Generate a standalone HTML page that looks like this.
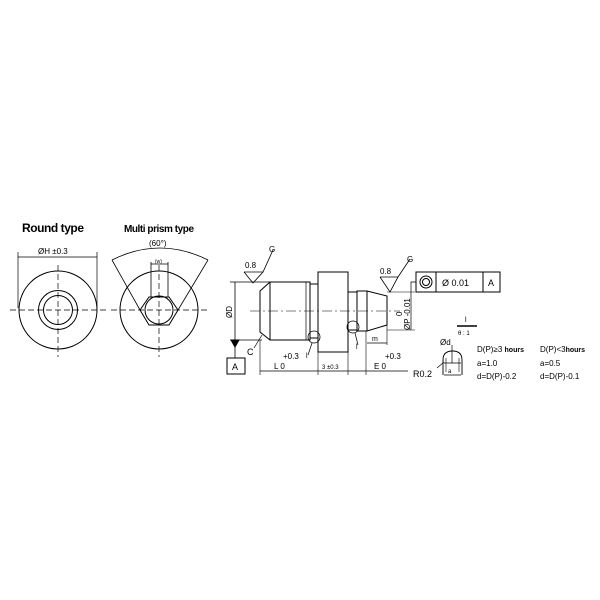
<!DOCTYPE html>
<html><head><style>body{margin:0;background:#fff}svg{display:block}text{font-family:"Liberation Sans",sans-serif;fill:#000}</style></head>
<body>
<svg width="600" height="600" viewBox="0 0 600 600" xmlns="http://www.w3.org/2000/svg" stroke="#000" fill="none" stroke-width="1">
<!-- Round type -->
<text x="22" y="232" font-size="12" font-weight="bold" stroke="none" textLength="62">Round type</text>
<line x1="18" y1="257" x2="97" y2="257" stroke-width="0.8"/>
<line x1="18" y1="252" x2="18" y2="308" stroke-width="0.7"/>
<line x1="97" y1="252" x2="97" y2="308" stroke-width="0.7"/>
<text x="38" y="254" font-size="8" stroke="none">ØH ±0.3</text>
<circle cx="58" cy="310" r="39"/>
<circle cx="58" cy="310" r="19.5"/>
<circle cx="58" cy="310" r="14.5"/>
<line x1="10" y1="310" x2="106" y2="310" stroke-dasharray="6,3" stroke-width="0.7"/>
<line x1="58" y1="265" x2="58" y2="357" stroke-dasharray="6,3" stroke-width="0.7"/>
<!-- Multi prism -->
<text x="124" y="232" font-size="10" font-weight="bold" stroke="none" textLength="70">Multi prism type</text>
<text x="149" y="246" font-size="8" stroke="none">(60°)</text>
<path d="M112,260 Q160,236 208,260" stroke-width="0.8"/>
<line x1="112" y1="260" x2="140" y2="310" stroke-width="0.8"/>
<line x1="208" y1="260" x2="178" y2="310" stroke-width="0.8"/>
<circle cx="159" cy="310" r="39"/>
<polygon points="140,310 149,297 169,297 178,310 169,325 149,325"/>
<circle cx="159" cy="310" r="14"/>
<line x1="151" y1="262" x2="151" y2="297" stroke-width="0.8"/>
<line x1="168" y1="262" x2="168" y2="297" stroke-width="0.8"/>
<line x1="151" y1="264" x2="168" y2="264" stroke-width="0.8"/>
<text x="155" y="263" font-size="5" stroke="none">(w)</text>
<line x1="111" y1="310" x2="207" y2="310" stroke-dasharray="6,3" stroke-width="0.7"/>
<line x1="159" y1="265" x2="159" y2="357" stroke-dasharray="6,3" stroke-width="0.7"/>
<!-- Main part -->
<polygon points="270,282 310,282 310,340 270,340 260,332 260,291"/>
<line x1="270" y1="282" x2="270" y2="340"/>
<line x1="306" y1="282" x2="306" y2="340" stroke-width="0.7"/>
<rect x="310" y="284" width="8" height="54"/>
<rect x="318" y="272" width="30" height="80"/>
<rect x="348" y="292" width="9" height="38"/>
<polygon points="357,291 367,291 387,296 387,325 367,331 357,331"/>
<line x1="367" y1="291" x2="367" y2="331"/>
<line x1="250" y1="311" x2="400" y2="311" stroke-dasharray="10,3,2,3" stroke-width="0.6"/>
<!-- OD dim -->
<line x1="230" y1="282" x2="270" y2="282" stroke-width="0.7"/>
<line x1="230" y1="340" x2="262" y2="340" stroke-width="0.7"/>
<line x1="235" y1="282" x2="235" y2="358" stroke-width="0.8"/>
<polygon points="231,340 239,340 235,347" fill="#000"/>
<rect x="227" y="358" width="18" height="16"/>
<text x="232" y="370" font-size="9" stroke="none">A</text>
<text x="0" y="0" font-size="8" stroke="none" transform="translate(232,318) rotate(-90)">ØD</text>
<!-- roughness left -->
<polyline points="244,272 253,283 263,272 273,250" stroke-width="0.8"/>
<line x1="244" y1="272" x2="263" y2="272" stroke-width="0.8"/>
<text x="245" y="268" font-size="8" stroke="none">0.8</text>
<text x="269" y="252" font-size="8" stroke="none">G</text>
<!-- roughness right -->
<polyline points="380,277 390,292 398,277 410,259" stroke-width="0.8"/>
<line x1="380" y1="277" x2="398" y2="277" stroke-width="0.8"/>
<text x="380" y="274" font-size="8" stroke="none">0.8</text>
<text x="407" y="262" font-size="8" stroke="none">G</text>
<line x1="387" y1="292" x2="415" y2="292" stroke-width="0.6"/>
<line x1="387" y1="330" x2="415" y2="330" stroke-width="0.6"/>
<!-- FCF -->
<rect x="416" y="272" width="84" height="20"/>
<line x1="436" y1="272" x2="436" y2="292"/>
<line x1="483" y1="272" x2="483" y2="292"/>
<circle cx="426" cy="282" r="6"/><circle cx="426" cy="282" r="3.5"/>
<text x="442" y="286" font-size="9" stroke="none">Ø 0.01</text>
<text x="488" y="286" font-size="9" stroke="none">A</text>
<polyline points="416,282 411,282 411,330" stroke-width="0.7"/>
<text x="0" y="0" font-size="8" stroke="none" transform="translate(410,330) rotate(-90)">ØP -0.01</text>
<text x="0" y="0" font-size="8" stroke="none" transform="translate(402,316) rotate(-90)">0</text>
<!-- bottom dims -->
<line x1="260" y1="340" x2="260" y2="375" stroke-width="0.6"/>
<line x1="318" y1="352" x2="318" y2="375" stroke-width="0.6"/>
<line x1="348" y1="352" x2="348" y2="375" stroke-width="0.6"/>
<line x1="366" y1="331" x2="366" y2="375" stroke-width="0.6"/>
<line x1="387" y1="325" x2="387" y2="345" stroke-width="0.6"/>
<line x1="260" y1="371" x2="408" y2="371" stroke-width="0.7"/>
<text x="283" y="359" font-size="8" stroke="none">+0.3</text>
<text x="274" y="369" font-size="8" stroke="none">L  0</text>
<text x="322" y="369" font-size="6" stroke="none">3 ±0.3</text>
<text x="385" y="359" font-size="8" stroke="none">+0.3</text>
<text x="374" y="369" font-size="8" stroke="none">E  0</text>
<line x1="367" y1="343" x2="387" y2="343" stroke-width="0.7"/>
<text x="372" y="341" font-size="7" stroke="none">m</text>
<text x="247" y="355" font-size="9" stroke="none">C</text>
<line x1="254" y1="348" x2="262" y2="335" stroke-width="0.7"/>
<circle cx="314" cy="337" r="6" stroke-width="0.8"/>
<circle cx="353" cy="327" r="6" stroke-width="0.8"/>
<line x1="312" y1="343" x2="308" y2="355" stroke-width="0.7"/>
<line x1="355" y1="333" x2="358" y2="345" stroke-width="0.7"/>
<text x="306" y="358" font-size="7" stroke="none">l</text>
<text x="356" y="349" font-size="7" stroke="none">l</text>
<!-- taper ratio -->
<line x1="457" y1="326" x2="477" y2="326" stroke-width="1.5"/>
<text x="465" y="322" font-size="7" stroke="none">l</text>
<text x="458" y="335" font-size="6" stroke="none">θ : 1</text>
<!-- small part -->
<path d="M443,375 L443,360 Q443,351 452.5,351 Q462,351 462,360 L462,375" stroke-width="0.9"/>
<line x1="446" y1="358" x2="446" y2="372" stroke-width="0.6"/>
<line x1="459" y1="358" x2="459" y2="372" stroke-width="0.6"/>
<line x1="452" y1="345" x2="452" y2="363" stroke-width="0.7"/>
<line x1="444" y1="363" x2="461" y2="363" stroke-width="0.7"/>
<line x1="444" y1="375" x2="461" y2="375" stroke-width="0.7"/>
<line x1="437" y1="368" x2="444" y2="362" stroke-width="0.7"/>
<text x="440" y="345" font-size="8" stroke="none">Ød</text>
<text x="448" y="373" font-size="6" stroke="none">a</text>
<text x="413" y="377" font-size="9" stroke="none">R0.2</text>
<text x="477" y="352" font-size="8" stroke="none">D(P)≥3 <tspan font-weight="bold" font-size="7">hours</tspan></text>
<text x="540" y="352" font-size="8" stroke="none">D(P)&lt;3<tspan font-weight="bold" font-size="7">hours</tspan></text>
<text x="477" y="366" font-size="8" stroke="none">a=1.0</text>
<text x="540" y="366" font-size="8" stroke="none">a=0.5</text>
<text x="477" y="379" font-size="8" stroke="none">d=D(P)-0.2</text>
<text x="540" y="379" font-size="8" stroke="none">d=D(P)-0.1</text>
</svg>
</body></html>
